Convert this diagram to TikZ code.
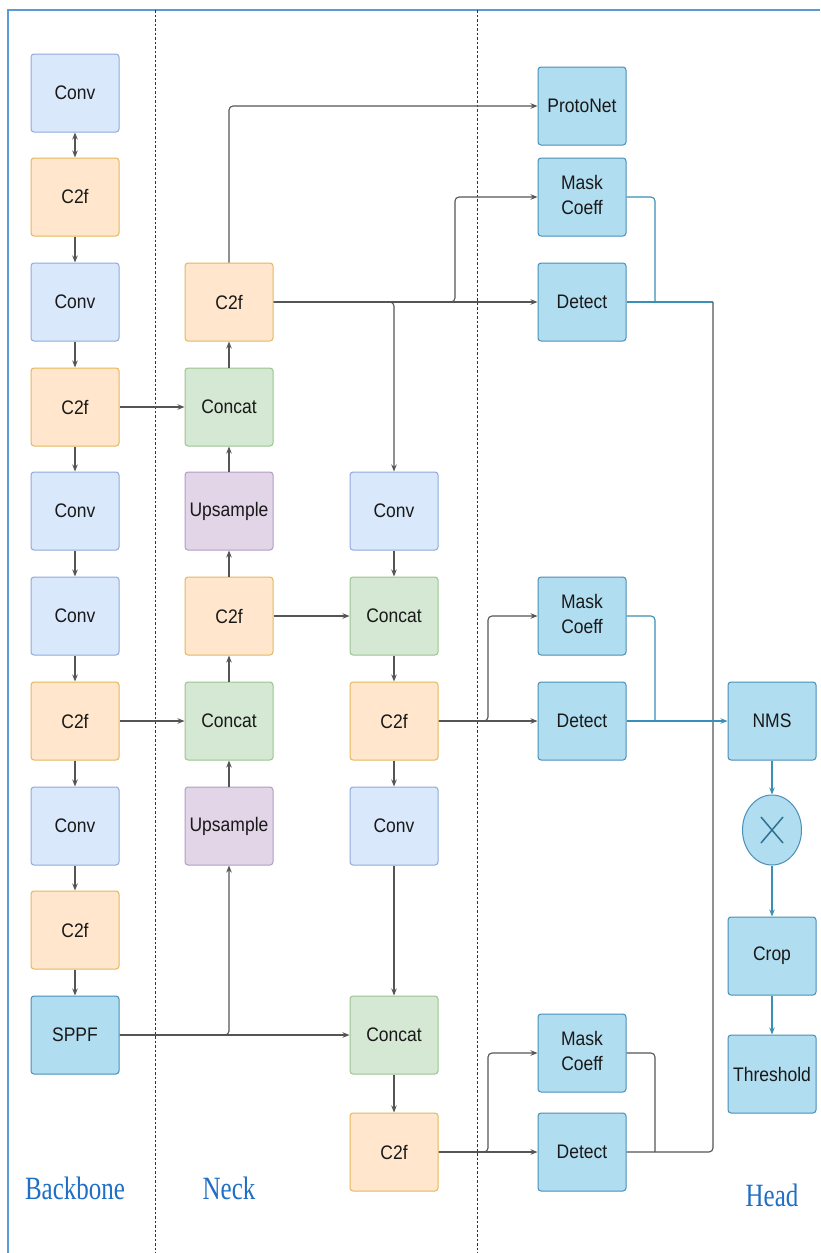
\documentclass[tikz,border=0pt]{standalone}
\usepackage{fontspec}
\usepackage{graphicx}
\setmainfont{Liberation Sans}
\newfontfamily\lblfont{Liberation Serif}
\usetikzlibrary{arrows.meta,shapes.geometric,calc}
\definecolor{convF}{HTML}{DAE8FC}\definecolor{convD}{HTML}{8FAADC}
\definecolor{c2fF}{HTML}{FFE6CC}\definecolor{c2fD}{HTML}{E6B85C}
\definecolor{catF}{HTML}{D5E8D4}\definecolor{catD}{HTML}{9CC48E}
\definecolor{upF}{HTML}{E1D5E7}\definecolor{upD}{HTML}{B49CC4}
\definecolor{hdF}{HTML}{B1DDF0}\definecolor{hdD}{HTML}{4A90B8}
\definecolor{lnk}{HTML}{555555}
\definecolor{blk}{HTML}{3A8FB7}
\definecolor{frame}{HTML}{5B9BD5}
\definecolor{lbl}{HTML}{1F6FC5}
\newcommand\bt[1]{\scalebox{1}[1.12]{#1}}
\newcommand\btt[2]{\raisebox{-2.5pt}{\scalebox{1}[1.12]{\begin{tabular}{@{}c@{}}#1\\#2\end{tabular}}}}
\tikzset{
  box/.style={draw, line width=1pt, rounded corners=3pt, minimum width=88pt, minimum height=78pt,
    inner sep=0pt, align=center, text=black!90, font=\fontsize{17.5}{22}\selectfont},
  conv/.style={box, fill=convF, draw=convD},
  ctf/.style={box, fill=c2fF, draw=c2fD},
  cat/.style={box, fill=catF, draw=catD},
  ups/.style={box, fill=upF, draw=upD},
  hd/.style={box, fill=hdF, draw=hdD},
  arr/.style={draw=lnk, line width=1.1pt, rounded corners=4pt, -{Stealth[length=7pt,width=5.5pt]}},
  ln/.style={draw=lnk, line width=1.1pt, rounded corners=4pt},
  barr/.style={draw=blk, line width=1.1pt, rounded corners=4pt, -{Stealth[length=7pt,width=5.5pt]}},
  bln/.style={draw=blk, line width=1.1pt, rounded corners=4pt},
  sep/.style={draw=black!80, line width=0.7pt, dash pattern=on 2.5pt off 2pt},
  lab/.style={text=lbl, font=\lblfont\fontsize{25}{25}\selectfont, yscale=1.3, transform shape}
}
\begin{document}
\begin{tikzpicture}[x=1pt,y=-1pt]
\useasboundingbox (0,0) rectangle (820,1253);
\fill[white] (0,0) rectangle (820,1253);
% frame
\draw[frame, line width=1.8pt] (8,1253) -- (8,10) -- (820,10);
\draw[sep] (155,10) -- (155,1253);
\draw[sep] (477,10) -- (477,1253);
% backbone
\node[conv] (b1) at (75,93) {\bt{Conv}};
\node[ctf] (b2) at (75,197) {\bt{C2f}};
\node[conv] (b3) at (75,302) {\bt{Conv}};
\node[ctf] (b4) at (75,407) {\bt{C2f}};
\node[conv] (b5) at (75,511) {\bt{Conv}};
\node[conv] (b6) at (75,616) {\bt{Conv}};
\node[ctf] (b7) at (75,721) {\bt{C2f}};
\node[conv] (b8) at (75,826) {\bt{Conv}};
\node[ctf] (b9) at (75,930) {\bt{C2f}};
\node[hd] (b10) at (75,1035) {\bt{SPPF}};
% neck
\node[ctf] (n1) at (229,302) {\bt{C2f}};
\node[cat] (n2) at (229,407) {\bt{Concat}};
\node[ups] (n3) at (229,511) {\bt{Upsample}};
\node[ctf] (n4) at (229,616) {\bt{C2f}};
\node[cat] (n5) at (229,721) {\bt{Concat}};
\node[ups] (n6) at (229,826) {\bt{Upsample}};
\node[conv] (m1) at (394,511) {\bt{Conv}};
\node[cat] (m2) at (394,616) {\bt{Concat}};
\node[ctf] (m3) at (394,721) {\bt{C2f}};
\node[conv] (m4) at (394,826) {\bt{Conv}};
\node[cat] (m5) at (394,1035) {\bt{Concat}};
\node[ctf] (m6) at (394,1152) {\bt{C2f}};
% head
\node[hd] (proto) at (582,106) {\bt{ProtoNet}};
\node[hd] (mc1) at (582,197) {\btt{Mask}{Coeff}};
\node[hd] (d1) at (582,302) {\bt{Detect}};
\node[hd] (mc2) at (582,616) {\btt{Mask}{Coeff}};
\node[hd] (d2) at (582,721) {\bt{Detect}};
\node[hd] (mc3) at (582,1053) {\btt{Mask}{Coeff}};
\node[hd] (d3) at (582,1152) {\bt{Detect}};
\node[hd] (nms) at (772,721) {\bt{NMS}};
\node[ellipse, draw=hdD, fill=hdF, line width=1pt, minimum width=59pt, minimum height=70pt, inner sep=0pt] (mul) at (772,830) {};
\draw[draw=blk!80!black, line width=1.5pt] ($(mul.center)+(-11,-13)$) -- ($(mul.center)+(11,13)$);
\draw[draw=blk!80!black, line width=1.5pt] ($(mul.center)+(11,-13)$) -- ($(mul.center)+(-11,13)$);
\node[hd] (crop) at (772,956) {\bt{Crop}};
\node[hd] (thr) at (772,1074) {\bt{Threshold}};
% labels
\node[lab] (lb) at (75,1188) {Backbone};
\node[lab] (ln) at (229,1188) {Neck};
\node[lab] (lh) at (772,1195) {Head};
% backbone links
\draw[draw=lnk, line width=1.1pt, {Stealth[length=7pt,width=5.5pt]}-{Stealth[length=7pt,width=5.5pt]}] (b1) -- (b2);
\draw[arr] (b2) -- (b3);
\draw[arr] (b3) -- (b4);
\draw[arr] (b4) -- (b5);
\draw[arr] (b5) -- (b6);
\draw[arr] (b6) -- (b7);
\draw[arr] (b7) -- (b8);
\draw[arr] (b8) -- (b9);
\draw[arr] (b9) -- (b10);
\draw[arr] (b4) -- (n2);
\draw[arr] (b7) -- (n5);
\draw[arr] (b10.east) -- (m5.west);
\draw[arr] (b10.east) -| (n6.south);
% neck links
\draw[arr] (n6) -- (n5);
\draw[arr] (n5) -- (n4);
\draw[arr] (n4) -- (n3);
\draw[arr] (n3) -- (n2);
\draw[arr] (n2) -- (n1);
\draw[arr] (n4) -- (m2);
\draw[arr] (n1.north) |- (proto.west);
\draw[arr] (n1.east) -- (d1.west);
\coordinate (j1) at (455,302);
\draw[arr] (n1.east) -- (j1) |- (mc1.west);
\draw[arr] (n1.east) -| (m1.north);
\draw[arr] (m1) -- (m2);
\draw[arr] (m2) -- (m3);
\draw[arr] (m3) -- (m4);
\draw[arr] (m4) -- (m5);
\draw[arr] (m5) -- (m6);
\coordinate (j2) at (488,721);
\draw[arr] (m3.east) -- (d2.west);
\draw[arr] (m3.east) -- (j2) |- (mc2.west);
\coordinate (j3) at (488,1152);
\draw[arr] (m6.east) -- (d3.west);
\draw[arr] (m6.east) -- (j3) |- (mc3.west);
% head outputs
\coordinate (k1) at (655,302);
\coordinate (v1) at (713,302);
\coordinate (k2) at (655,721);
\coordinate (k3) at (655,1152);
\coordinate (v3) at (713,1152);
\draw[bln] (mc1.east) -| (k1);
\draw[bln] (d1.east) -- (v1);
\draw[ln] (d3.east) -- (v3) -- (v1);
\draw[ln] (mc3.east) -| (k3);
\draw[bln] (mc2.east) -| (k2);
\draw[barr] (d2.east) -- (nms.west);
\draw[barr] (nms) -- (mul);
\draw[barr] (mul) -- (crop);
\draw[barr] (crop) -- (thr);
\end{tikzpicture}
\end{document}
